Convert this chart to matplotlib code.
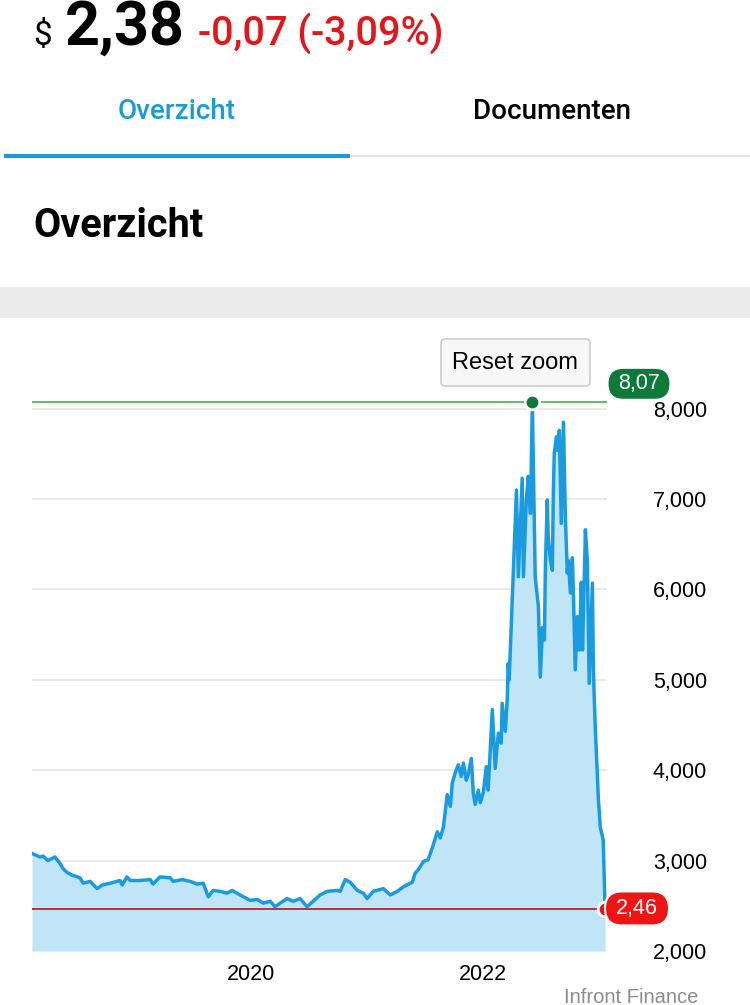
import matplotlib
matplotlib.use("Agg")
import matplotlib.pyplot as plt
from matplotlib.patches import FancyBboxPatch, Rectangle
from matplotlib.transforms import IdentityTransform
import pandas as pd

# price history (USD)
dates = [
    "2018-02-10", "2018-03-07", "2018-03-17", "2018-04-01", "2018-04-23", "2018-05-09",
    "2018-05-19", "2018-05-31", "2018-06-16", "2018-07-11", "2018-07-21", "2018-08-12",
    "2018-09-03", "2018-09-19", "2018-10-14", "2018-11-14", "2018-11-21", "2018-12-06",
    "2018-12-16", "2019-01-16", "2019-02-17", "2019-02-26", "2019-03-20", "2019-04-21",
    "2019-04-30", "2019-05-29", "2019-06-23", "2019-07-15", "2019-08-03", "2019-08-19",
    "2019-09-03", "2019-09-25", "2019-10-17", "2019-11-02", "2019-11-27", "2019-12-29",
    "2020-01-20", "2020-02-08", "2020-03-01", "2020-03-16", "2020-04-01", "2020-04-23",
    "2020-05-12", "2020-06-03", "2020-06-25", "2020-07-14", "2020-08-05", "2020-08-27",
    "2020-09-28", "2020-10-07", "2020-10-23", "2020-11-08", "2020-11-30", "2020-12-19",
    "2020-12-31", "2021-01-19", "2021-02-20", "2021-03-14", "2021-04-05", "2021-04-24",
    "2021-05-22", "2021-05-31", "2021-06-10", "2021-06-26", "2021-07-11", "2021-07-24",
    "2021-08-09", "2021-08-18", "2021-08-28", "2021-09-09", "2021-09-19", "2021-09-25",
    "2021-10-05", "2021-10-14", "2021-10-23", "2021-10-30", "2021-11-08", "2021-11-14",
    "2021-11-24", "2021-11-30", "2021-12-06", "2021-12-16", "2021-12-22", "2022-01-01",
    "2022-01-10", "2022-01-16", "2022-01-29", "2022-02-07", "2022-02-17", "2022-02-26",
    "2022-03-01", "2022-03-11", "2022-03-17", "2022-03-20", "2022-03-23", "2022-04-02",
    "2022-04-15", "2022-04-21", "2022-05-03", "2022-05-07", "2022-05-16", "2022-05-22",
    "2022-05-29", "2022-06-04", "2022-06-13", "2022-06-23", "2022-06-29", "2022-07-06",
    "2022-07-09", "2022-07-12", "2022-07-15", "2022-07-21", "2022-07-24", "2022-07-31",
    "2022-08-06", "2022-08-09", "2022-08-12", "2022-08-19", "2022-08-22", "2022-08-28",
    "2022-09-03", "2022-09-10", "2022-09-16", "2022-09-22", "2022-09-25", "2022-10-02",
    "2022-10-08", "2022-10-11", "2022-10-17", "2022-10-24", "2022-10-30", "2022-11-05",
    "2022-11-09", "2022-11-18", "2022-11-24", "2022-11-30", "2022-12-10", "2022-12-13",
    "2022-12-16", "2022-12-19", "2022-12-29", "2023-01-04", "2023-01-13", "2023-01-19",
]
prices = [
    3.08, 3.04, 3.05, 3.00, 3.04, 2.97,
    2.91, 2.87, 2.84, 2.81, 2.75, 2.77,
    2.69, 2.73, 2.75, 2.78, 2.73, 2.82,
    2.78, 2.78, 2.79, 2.74, 2.82, 2.81,
    2.77, 2.79, 2.77, 2.74, 2.75, 2.60,
    2.67, 2.66, 2.64, 2.67, 2.62, 2.56,
    2.57, 2.53, 2.55, 2.49, 2.53, 2.58,
    2.55, 2.58, 2.49, 2.55, 2.62, 2.66,
    2.67, 2.66, 2.79, 2.76, 2.67, 2.64,
    2.58, 2.66, 2.69, 2.62, 2.66, 2.71,
    2.76, 2.86, 2.90, 2.99, 3.01, 3.14,
    3.32, 3.25, 3.37, 3.73, 3.60, 3.86,
    3.98, 4.06, 3.93, 4.08, 3.89, 3.95,
    4.13, 3.75, 3.62, 3.78, 3.64, 3.76,
    4.04, 3.78, 4.67, 4.02, 4.41, 4.30,
    4.74, 4.43, 4.78, 5.18, 5.00, 5.92,
    7.10, 6.14, 7.23, 6.14, 6.99, 7.25,
    6.84, 8.07, 6.14, 5.81, 5.03, 5.58,
    5.52, 5.44, 6.25, 6.99, 6.58, 6.32,
    6.21, 7.07, 7.51, 7.69, 7.54, 7.76,
    6.73, 7.85, 6.80, 6.18, 6.32, 5.96,
    6.35, 5.99, 5.11, 5.70, 5.33, 6.08,
    5.33, 6.66, 6.32, 4.96, 6.07, 5.14,
    4.78, 4.48, 3.67, 3.37, 3.23, 2.46,
]

high = 8.07
low = 2.46
yticks = [2, 3, 4, 5, 6, 7, 8]
xticks = ["2020-01-01", "2022-01-01"]
xtick_labels = ["2020", "2022"]
x_range = ["2018-02-10", "2023-01-25"]

W, H = 750, 1005
BLUE = "#1a9be0"
FILL = "#bfe5f6"


def fy(y):
    return 1 - y / H


df = pd.DataFrame({"date": pd.to_datetime(dates), "price": prices})

fig = plt.figure(figsize=(W / 100, H / 100), dpi=100)
fig.patch.set_facecolor("white")

# ---- page header ----
fig.text(33 / W, fy(45), "$", fontsize=24, family="Roboto", va="baseline")
fig.text(65 / W, fy(45), "2,38", fontsize=44, family="Roboto", weight="bold", va="baseline")
fig.text(198 / W, fy(45), "-0,07 (-3,09%)", fontsize=28.5, family="Roboto", weight="medium",
         color="#e3161b", va="baseline")

fig.text(177 / W, fy(119), "Overzicht", fontsize=20, family="Roboto", weight="medium",
         color="#1a9bd7", ha="center", va="baseline")
fig.text(552 / W, fy(119), "Documenten", fontsize=20, family="Roboto", weight="medium",
         color="black", ha="center", va="baseline")
fig.add_artist(Rectangle((350 / W, fy(157)), 400 / W, 2 / H, transform=fig.transFigure,
                         color="#e2e2e2", lw=0))
fig.add_artist(Rectangle((4 / W, fy(158)), 346 / W, 4 / H, transform=fig.transFigure,
                         color="#1a9bd7", lw=0))

fig.text(33 / W, fy(237), "Overzicht", fontsize=28.5, family="Roboto", weight="bold", va="baseline")
fig.add_artist(Rectangle((0, fy(318)), 1, 31 / H, transform=fig.transFigure,
                         color="#ececec", lw=0))

# ---- chart ----
ax = fig.add_axes([32 / W, 54 / H, 575 / W, 551.4 / H])
ax.set_xlim(pd.to_datetime(x_range))
ax.set_ylim(2, 8.1)

ax.fill_between(df["date"], df["price"], 2, color=FILL, lw=0, zorder=1)
for y in yticks:
    ax.axhline(y, color="#e6e6e6", lw=1.2, zorder=0.5)
ax.plot(df["date"], df["price"], color=BLUE, lw=2.5, zorder=3, solid_joinstyle="round")

ax.axhline(high, color="#5cb35e", lw=1.3, zorder=2)
ax.axhline(low, color="#b8323a", lw=1.4, zorder=2)

imax = df["price"].idxmax()
ax.plot(df["date"][imax], high, "o", ms=10.5, color="#0c7a38", mec="white", mew=2,
        zorder=5, clip_on=False)
ax.plot(df["date"].iloc[-1], low, "o", ms=10.5, color="#f20f0f", mec="white", mew=2,
        zorder=5, clip_on=False)

for s in ax.spines.values():
    s.set_visible(False)

ax.yaxis.tick_right()
ax.set_yticks(yticks)
ax.set_yticklabels([f"{v:.3f}".replace(".", ",") for v in yticks], fontsize=15.5,
                   family="Liberation Sans", ha="right")
ax.tick_params(axis="y", length=0, pad=72)
ax.set_xticks(pd.to_datetime(xticks))
ax.set_xticklabels(xtick_labels, fontsize=15.5, family="Liberation Sans")
ax.tick_params(axis="x", length=0, pad=9)

# badges for high / low
ident = IdentityTransform()


def pill(xc, yc, w, h, fc, label):
    fig.add_artist(FancyBboxPatch((xc - w / 2, yc - h / 2), w, h,
                                  boxstyle=f"round,pad=0,rounding_size={h / 2}",
                                  transform=ident, fc=fc, ec="white", lw=1.5, zorder=6))
    fig.text(xc, yc, label, transform=ident, color="white", fontsize=15.5,
             family="Liberation Sans", ha="center", va="center", zorder=7)


yh = ax.transData.transform((0, high))[1]
yl = ax.transData.transform((0, low))[1]
pill(639, yh + 18.5, 63, 32, "#0e7a3a", f"{high:.2f}".replace(".", ","))
pill(637, yl + 1, 64, 34, "#f01515", f"{low:.2f}".replace(".", ","))

# reset zoom button
fig.add_artist(FancyBboxPatch((441, H - 386), 149, 47, boxstyle="round,pad=0,rounding_size=4",
                              transform=ident, fc="#f7f7f7", ec="#cccccc", lw=1.2, zorder=6))
fig.text(515, H - 363, "Reset zoom", transform=ident, fontsize=17, family="Liberation Sans",
         ha="center", va="center", zorder=7)

fig.text(631 / W, fy(997), "Infront Finance", fontsize=14.5, family="Liberation Sans",
         color="#8c8c8c", ha="center", va="center")

fig.savefig("out.png", dpi=100)
